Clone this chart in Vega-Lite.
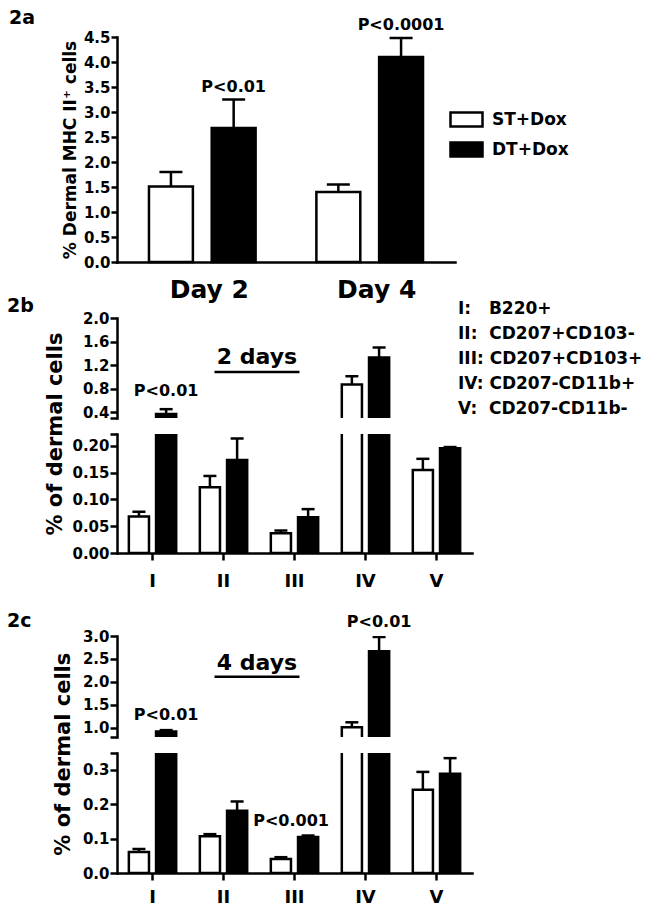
{
  "$schema": "https://vega.github.io/schema/vega-lite/v6.json",
  "background": "white",
  "padding": {"left": 7, "top": 8, "right": 5, "bottom": 5},
  "datasets": {
    "a": [
      {"day": "Day 2", "group": "ST+Dox", "v": 1.51, "err": 1.80, "p": ""},
      {"day": "Day 2", "group": "DT+Dox", "v": 2.68, "err": 3.25, "p": "P<0.01"},
      {"day": "Day 4", "group": "ST+Dox", "v": 1.40, "err": 1.55, "p": ""},
      {"day": "Day 4", "group": "DT+Dox", "v": 4.10, "err": 4.48, "p": "P<0.0001"}
    ],
    "b": [
      {"cat": "I", "group": "ST+Dox", "v": 0.068, "err": 0.077, "p": ""},
      {"cat": "I", "group": "DT+Dox", "v": 0.37, "err": 0.45, "p": "P<0.01"},
      {"cat": "II", "group": "ST+Dox", "v": 0.123, "err": 0.144, "p": ""},
      {"cat": "II", "group": "DT+Dox", "v": 0.174, "err": 0.214, "p": ""},
      {"cat": "III", "group": "ST+Dox", "v": 0.037, "err": 0.042, "p": ""},
      {"cat": "III", "group": "DT+Dox", "v": 0.067, "err": 0.082, "p": ""},
      {"cat": "IV", "group": "ST+Dox", "v": 0.87, "err": 1.01, "p": ""},
      {"cat": "IV", "group": "DT+Dox", "v": 1.33, "err": 1.50, "p": ""},
      {"cat": "V", "group": "ST+Dox", "v": 0.155, "err": 0.176, "p": ""},
      {"cat": "V", "group": "DT+Dox", "v": 0.196, "err": 0.198, "p": ""}
    ],
    "c": [
      {"cat": "I", "group": "ST+Dox", "v": 0.061, "err": 0.070, "p": ""},
      {"cat": "I", "group": "DT+Dox", "v": 0.92, "err": 0.95, "p": "P<0.01"},
      {"cat": "II", "group": "ST+Dox", "v": 0.107, "err": 0.113, "p": ""},
      {"cat": "II", "group": "DT+Dox", "v": 0.181, "err": 0.208, "p": ""},
      {"cat": "III", "group": "ST+Dox", "v": 0.041, "err": 0.046, "p": ""},
      {"cat": "III", "group": "DT+Dox", "v": 0.105, "err": 0.109, "p": "P<0.001"},
      {"cat": "IV", "group": "ST+Dox", "v": 1.01, "err": 1.12, "p": ""},
      {"cat": "IV", "group": "DT+Dox", "v": 2.67, "err": 2.98, "p": "P<0.01"},
      {"cat": "V", "group": "ST+Dox", "v": 0.242, "err": 0.294, "p": ""},
      {"cat": "V", "group": "DT+Dox", "v": 0.289, "err": 0.334, "p": ""}
    ],
    "keys": [
      {"key": "I:\u00a0\u00a0\u00a0B220+"},
      {"key": "II:\u00a0\u00a0CD207+CD103-"},
      {"key": "III:\u00a0CD207+CD103+"},
      {"key": "IV:\u00a0CD207-CD11b+"},
      {"key": "V:\u00a0\u00a0CD207-CD11b-"}
    ]
  },
  "spacing": 21,
  "resolve": {"scale": {"fill": "independent", "shape": "independent", "xOffset": "independent"}, "legend": {"fill": "independent", "shape": "independent"}},
  "vconcat": [
    {
      "spacing": -6,
      "resolve": {"scale": {"fill": "independent", "shape": "independent", "xOffset": "independent"}, "legend": {"fill": "independent", "shape": "independent"}},
      "vconcat": [
        {
          "title": {"text": "2a", "dx": -108, "dy": 15},
          "width": 338,
          "height": 225,
          "data": {"name": "a"},
          "layer": [
            {
              "mark": {"type": "bar", "stroke": "black", "strokeWidth": 2.5},
              "encoding": {
                "x": {"field": "day", "type": "nominal", "scale": {"paddingInner": 0.363, "paddingOuter": 0.191}, "axis": {"title": null, "labelAngle": 0, "ticks": false, "labelFontSize": 25, "labelPadding": 15, "labelOffset": 7}},
                "xOffset": {"field": "group", "type": "nominal", "sort": ["ST+Dox", "DT+Dox"], "scale": {"paddingInner": 0.3, "paddingOuter": 0}},
                "y": {"field": "v", "type": "quantitative", "scale": {"domain": [0, 4.5], "nice": false}, "axis": {"title": "% Dermal MHC II\u207a cells", "values": [0, 0.5, 1, 1.5, 2, 2.5, 3, 3.5, 4, 4.5], "tickCount": 30, "format": ".1f", "labelOverlap": false, "tickSize": 6, "labelPadding": 1, "titleFontSize": 17, "titleX": -42, "titleBaseline": "alphabetic"}},
                "y2": {"datum": 0},
                "fill": {"field": "group", "type": "nominal", "sort": ["ST+Dox", "DT+Dox"], "scale": {"domain": ["ST+Dox", "DT+Dox"], "range": ["white", "black"]},
                  "legend": {"orient": "none", "legendX": 332, "legendY": 65, "title": null, "symbolType": "M-1,-0.44H1V0.44H-1Z", "symbolSize": 1024, "symbolStrokeColor": "black", "symbolStrokeWidth": 2.5, "labelFontSize": 17, "labelOffset": 8, "rowPadding": 0, "labelLimit": 300}}
              }
            },
            {
              "mark": {"type": "rule", "color": "black", "strokeWidth": 2.5},
              "encoding": {
                "x": {"field": "day", "type": "nominal"},
                "xOffset": {"field": "group", "type": "nominal", "sort": ["ST+Dox", "DT+Dox"]},
                "y": {"field": "v", "type": "quantitative"},
                "y2": {"field": "err"}
              }
            },
            {
              "mark": {"type": "tick", "color": "black", "opacity": 1, "thickness": 2.5, "size": 23},
              "encoding": {
                "x": {"field": "day", "type": "nominal"},
                "xOffset": {"field": "group", "type": "nominal", "sort": ["ST+Dox", "DT+Dox"]},
                "y": {"field": "err", "type": "quantitative"}
              }
            },
            {
              "transform": [{"filter": "datum.p != ''"}],
              "mark": {"type": "text", "fontSize": 16, "baseline": "alphabetic", "dy": -8},
              "encoding": {
                "x": {"field": "day", "type": "nominal"},
                "xOffset": {"field": "group", "type": "nominal", "sort": ["ST+Dox", "DT+Dox"]},
                "y": {"field": "err", "type": "quantitative"},
                "text": {"field": "p"}
              }
            }
          ]
        },
        {
          "spacing": 16,
          "bounds": "flush",
          "resolve": {"scale": {"fill": "independent", "shape": "independent", "xOffset": "independent"}, "legend": {"fill": "independent", "shape": "independent"}},
          "vconcat": [
            {
              "title": {"text": "2b", "dx": -110, "dy": 19},
              "width": 355,
              "height": 100,
              "layer": [
                {
                  "data": {"name": "b"},
                  "mark": {"type": "bar", "stroke": "black", "strokeWidth": 2.5, "clip": true},
                  "encoding": {
                    "x": {"field": "cat", "type": "nominal", "sort": ["I", "II", "III", "IV", "V"], "scale": {"paddingInner": 0.333, "paddingOuter": 0.167}, "axis": null},
                    "xOffset": {"field": "group", "type": "nominal", "sort": ["ST+Dox", "DT+Dox"], "scale": {"paddingInner": 0.26, "paddingOuter": 0}},
                    "y": {"field": "v", "type": "quantitative", "scale": {"domain": [0.3, 2.0], "nice": false, "zero": false},
                      "axis": {"title": "% of dermal cells", "titleFontSize": 21, "titleX": -56, "titleY": 115.5, "titleBaseline": "alphabetic", "values": [0.3, 0.4, 0.8, 1.2, 1.6, 2.0], "tickCount": 30, "labelOverlap": false, "labelExpr": "datum.value < 0.35 ? '' : format(datum.value, '.1f')", "tickSize": 7, "labelPadding": 1}},
                    "y2": {"datum": 0},
                    "fill": {"field": "group", "type": "nominal", "scale": {"domain": ["ST+Dox", "DT+Dox"], "range": ["white", "black"]}, "legend": null}
                  }
                },
                {
                  "data": {"name": "b"},
                  "mark": {"type": "rule", "color": "black", "strokeWidth": 2.5, "clip": true},
                  "encoding": {
                    "x": {"field": "cat", "type": "nominal", "sort": ["I", "II", "III", "IV", "V"]},
                    "xOffset": {"field": "group", "type": "nominal", "sort": ["ST+Dox", "DT+Dox"]},
                    "y": {"field": "v", "type": "quantitative"},
                    "y2": {"field": "err"}
                  }
                },
                {
                  "data": {"name": "b"},
                  "mark": {"type": "tick", "color": "black", "opacity": 1, "thickness": 2.5, "size": 13, "clip": true},
                  "encoding": {
                    "x": {"field": "cat", "type": "nominal", "sort": ["I", "II", "III", "IV", "V"]},
                    "xOffset": {"field": "group", "type": "nominal", "sort": ["ST+Dox", "DT+Dox"]},
                    "y": {"field": "err", "type": "quantitative"}
                  }
                },
                {
                  "data": {"name": "b"},
                  "transform": [{"filter": "datum.p != '' && datum.err > 0.3"}],
                  "mark": {"type": "text", "fontSize": 16, "baseline": "alphabetic", "dy": -13},
                  "encoding": {
                    "x": {"field": "cat", "type": "nominal", "sort": ["I", "II", "III", "IV", "V"]},
                    "xOffset": {"field": "group", "type": "nominal", "sort": ["ST+Dox", "DT+Dox"]},
                    "y": {"field": "err", "type": "quantitative"},
                    "text": {"field": "p"}
                  }
                },
                {
                  "data": {"values": [{}]},
                  "mark": {"type": "text", "text": "2 days", "fontSize": 22, "baseline": "alphabetic", "dx": -37.5},
                  "encoding": {
                    "x": {"datum": "III", "type": "nominal"},
                    "y": {"datum": 1.22, "type": "quantitative"}
                  }
                },
                {
                  "data": {"values": [{}]},
                  "mark": {"type": "tick", "color": "black", "opacity": 1, "thickness": 2.5, "size": 85, "xOffset": -37.5},
                  "encoding": {
                    "x": {"datum": "III", "type": "nominal"},
                    "y": {"datum": 1.08, "type": "quantitative"}
                  }
                },
                {
                  "data": {"name": "keys"},
                  "mark": {"type": "point", "opacity": 0},
                  "encoding": {
                    "shape": {"field": "key", "type": "nominal", "sort": null,
                      "legend": {"orient": "none", "legendX": 324, "legendY": -17.5, "title": null, "symbolSize": 0, "symbolOpacity": 0, "symbolStrokeWidth": 0, "labelOffset": 0, "labelFontSize": 17, "labelLimit": 400, "rowPadding": 7}}
                  }
                }
              ]
            },
            {
              "width": 355,
              "height": 119,
              "data": {"name": "b"},
              "layer": [
                {
                  "mark": {"type": "bar", "stroke": "black", "strokeWidth": 2.5, "clip": true},
                  "encoding": {
                    "x": {"field": "cat", "type": "nominal", "sort": ["I", "II", "III", "IV", "V"], "scale": {"paddingInner": 0.333, "paddingOuter": 0.167}, "axis": {"title": null, "labelAngle": 0, "tickSize": 7, "labelFontSize": 18, "labelPadding": 12}},
                    "xOffset": {"field": "group", "type": "nominal", "sort": ["ST+Dox", "DT+Dox"], "scale": {"paddingInner": 0.26, "paddingOuter": 0}},
                    "y": {"field": "v", "type": "quantitative", "scale": {"domain": [0, 0.2224], "nice": false},
                      "axis": {"title": null, "values": [0, 0.05, 0.1, 0.15, 0.2, 0.2224], "tickCount": 30, "labelOverlap": false, "labelExpr": "datum.value > 0.21 ? '' : format(datum.value, '.2f')", "tickSize": 7, "labelPadding": 1}},
                    "y2": {"datum": 0},
                    "fill": {"field": "group", "type": "nominal", "scale": {"domain": ["ST+Dox", "DT+Dox"], "range": ["white", "black"]}, "legend": null}
                  }
                },
                {
                  "mark": {"type": "rule", "color": "black", "strokeWidth": 2.5, "clip": true},
                  "encoding": {
                    "x": {"field": "cat", "type": "nominal", "sort": ["I", "II", "III", "IV", "V"]},
                    "xOffset": {"field": "group", "type": "nominal", "sort": ["ST+Dox", "DT+Dox"]},
                    "y": {"field": "v", "type": "quantitative"},
                    "y2": {"field": "err"}
                  }
                },
                {
                  "mark": {"type": "tick", "color": "black", "opacity": 1, "thickness": 2.5, "size": 13, "clip": true},
                  "encoding": {
                    "x": {"field": "cat", "type": "nominal", "sort": ["I", "II", "III", "IV", "V"]},
                    "xOffset": {"field": "group", "type": "nominal", "sort": ["ST+Dox", "DT+Dox"]},
                    "y": {"field": "err", "type": "quantitative"}
                  }
                }
              ]
            }
          ]
        }
      ]
    },
    {
      "spacing": 16,
      "bounds": "flush",
      "resolve": {"scale": {"fill": "independent", "shape": "independent", "xOffset": "independent"}, "legend": {"fill": "independent", "shape": "independent"}},
      "vconcat": [
        {
          "title": {"text": "2c", "dx": -110, "dy": 21},
          "width": 355,
          "height": 101,
          "layer": [
            {
              "data": {"name": "c"},
              "mark": {"type": "bar", "stroke": "black", "strokeWidth": 2.5, "clip": true},
              "encoding": {
                "x": {"field": "cat", "type": "nominal", "sort": ["I", "II", "III", "IV", "V"], "scale": {"paddingInner": 0.333, "paddingOuter": 0.167}, "axis": null},
                "xOffset": {"field": "group", "type": "nominal", "sort": ["ST+Dox", "DT+Dox"], "scale": {"paddingInner": 0.26, "paddingOuter": 0}},
                "y": {"field": "v", "type": "quantitative", "scale": {"domain": [0.8, 3.0], "nice": false, "zero": false},
                  "axis": {"title": "% of dermal cells", "titleFontSize": 21, "titleX": -48, "titleY": 117.7, "titleBaseline": "alphabetic", "values": [0.8, 1.0, 1.5, 2.0, 2.5, 3.0], "tickCount": 30, "labelOverlap": false, "labelExpr": "datum.value < 0.9 ? '' : format(datum.value, '.1f')", "tickSize": 7, "labelPadding": 1}},
                "y2": {"datum": 0},
                "fill": {"field": "group", "type": "nominal", "scale": {"domain": ["ST+Dox", "DT+Dox"], "range": ["white", "black"]}, "legend": null}
              }
            },
            {
              "data": {"name": "c"},
              "mark": {"type": "rule", "color": "black", "strokeWidth": 2.5, "clip": true},
              "encoding": {
                "x": {"field": "cat", "type": "nominal", "sort": ["I", "II", "III", "IV", "V"]},
                "xOffset": {"field": "group", "type": "nominal", "sort": ["ST+Dox", "DT+Dox"]},
                "y": {"field": "v", "type": "quantitative"},
                "y2": {"field": "err"}
              }
            },
            {
              "data": {"name": "c"},
              "mark": {"type": "tick", "color": "black", "opacity": 1, "thickness": 2.5, "size": 13, "clip": true},
              "encoding": {
                "x": {"field": "cat", "type": "nominal", "sort": ["I", "II", "III", "IV", "V"]},
                "xOffset": {"field": "group", "type": "nominal", "sort": ["ST+Dox", "DT+Dox"]},
                "y": {"field": "err", "type": "quantitative"}
              }
            },
            {
              "data": {"name": "c"},
              "transform": [{"filter": "datum.p != '' && datum.err > 0.8"}],
              "mark": {"type": "text", "fontSize": 16, "baseline": "alphabetic", "dy": -10},
              "encoding": {
                "x": {"field": "cat", "type": "nominal", "sort": ["I", "II", "III", "IV", "V"]},
                "xOffset": {"field": "group", "type": "nominal", "sort": ["ST+Dox", "DT+Dox"]},
                "y": {"field": "err", "type": "quantitative"},
                "text": {"field": "p"}
              }
            },
            {
              "data": {"values": [{}]},
              "mark": {"type": "text", "text": "4 days", "fontSize": 22, "baseline": "alphabetic", "dx": -37.5},
              "encoding": {
                "x": {"datum": "III", "type": "nominal"},
                "y": {"datum": 2.27, "type": "quantitative"}
              }
            },
            {
              "data": {"values": [{}]},
              "mark": {"type": "tick", "color": "black", "opacity": 1, "thickness": 2.5, "size": 85, "xOffset": -37.5},
              "encoding": {
                "x": {"datum": "III", "type": "nominal"},
                "y": {"datum": 2.11, "type": "quantitative"}
              }
            }
          ]
        },
        {
          "width": 355,
          "height": 120,
          "data": {"name": "c"},
          "layer": [
            {
              "mark": {"type": "bar", "stroke": "black", "strokeWidth": 2.5, "clip": true},
              "encoding": {
                "x": {"field": "cat", "type": "nominal", "sort": ["I", "II", "III", "IV", "V"], "scale": {"paddingInner": 0.333, "paddingOuter": 0.167}, "axis": {"title": null, "labelAngle": 0, "tickSize": 7, "labelFontSize": 18, "labelPadding": 8.5}},
                "xOffset": {"field": "group", "type": "nominal", "sort": ["ST+Dox", "DT+Dox"], "scale": {"paddingInner": 0.26, "paddingOuter": 0}},
                "y": {"field": "v", "type": "quantitative", "scale": {"domain": [0, 0.349], "nice": false},
                  "axis": {"title": null, "values": [0, 0.1, 0.2, 0.3, 0.349], "tickCount": 30, "labelOverlap": false, "labelExpr": "datum.value > 0.31 ? '' : format(datum.value, '.1f')", "tickSize": 7, "labelPadding": 1}},
                "y2": {"datum": 0},
                "fill": {"field": "group", "type": "nominal", "scale": {"domain": ["ST+Dox", "DT+Dox"], "range": ["white", "black"]}, "legend": null}
              }
            },
            {
              "mark": {"type": "rule", "color": "black", "strokeWidth": 2.5, "clip": true},
              "encoding": {
                "x": {"field": "cat", "type": "nominal", "sort": ["I", "II", "III", "IV", "V"]},
                "xOffset": {"field": "group", "type": "nominal", "sort": ["ST+Dox", "DT+Dox"]},
                "y": {"field": "v", "type": "quantitative"},
                "y2": {"field": "err"}
              }
            },
            {
              "mark": {"type": "tick", "color": "black", "opacity": 1, "thickness": 2.5, "size": 13, "clip": true},
              "encoding": {
                "x": {"field": "cat", "type": "nominal", "sort": ["I", "II", "III", "IV", "V"]},
                "xOffset": {"field": "group", "type": "nominal", "sort": ["ST+Dox", "DT+Dox"]},
                "y": {"field": "err", "type": "quantitative"}
              }
            },
            {
              "transform": [{"filter": "datum.p != '' && datum.err < 0.349"}],
              "mark": {"type": "text", "fontSize": 16, "baseline": "alphabetic", "dy": -10, "dx": -17},
              "encoding": {
                "x": {"field": "cat", "type": "nominal", "sort": ["I", "II", "III", "IV", "V"]},
                "xOffset": {"field": "group", "type": "nominal", "sort": ["ST+Dox", "DT+Dox"]},
                "y": {"field": "err", "type": "quantitative"},
                "text": {"field": "p"}
              }
            }
          ]
        }
      ]
    }
  ],
  "config": {
    "font": "DejaVu Sans",
    "view": {"stroke": null},
    "axis": {"labelFont": "DejaVu Sans", "titleFont": "DejaVu Sans", "labelFontWeight": "bold", "titleFontWeight": "bold", "labelColor": "black", "titleColor": "black", "domainColor": "black", "tickColor": "black", "domainWidth": 2.5, "tickWidth": 2.5, "grid": false, "labelFontSize": 15, "domainCap": "square"},
    "title": {"font": "DejaVu Sans", "fontWeight": "bold", "fontSize": 19, "color": "black", "anchor": "start", "frame": "group"},
    "text": {"font": "DejaVu Sans", "fontWeight": "bold", "color": "black"},
    "legend": {"labelFont": "DejaVu Sans", "labelFontWeight": "bold", "labelColor": "black"}
  }
}
